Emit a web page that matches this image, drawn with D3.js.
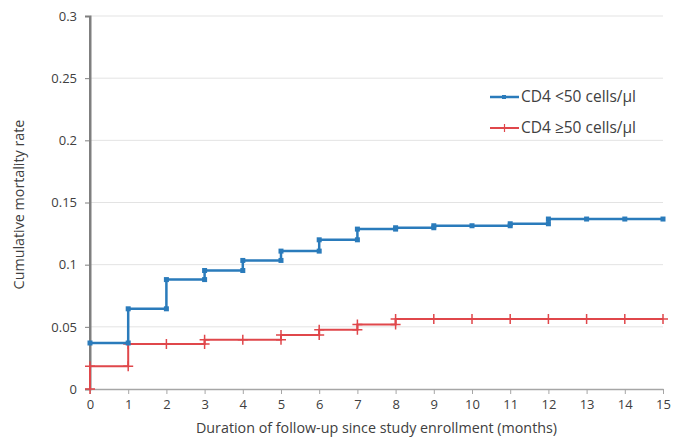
<!DOCTYPE html>
<html>
<head>
<meta charset="utf-8">
<script src="https://cdn.jsdelivr.net/npm/d3@7"></script>
<style>
  body { margin: 0; background: #fff; }
  text { font-family: "Open Sans", "Noto Sans", sans-serif; fill: #404040; }
</style>
</head>
<body>
<div id="chart"></div>
<script>
    // step curve data: value reached at each month
    var months = [0, 1, 2, 3, 4, 5, 6, 7, 8, 9, 10, 11, 12, 13, 14, 15];
    var lowCD4 = [0.037, 0.0645, 0.088, 0.0953, 0.1034, 0.1109, 0.12, 0.1286, 0.1297, 0.1313, 0.1313, 0.1329, 0.1367, 0.1367, 0.1367, 0.1367];
    var highCD4 = [0.0182, 0.0362, 0.0362, 0.0396, 0.0396, 0.0434, 0.0477, 0.0519, 0.0563, 0.0563, 0.0563, 0.0563, 0.0563, 0.0563, 0.0563, 0.0563];
    var lowStart = null, highStart = 0;
    var yTicks = [0, 0.05, 0.1, 0.15, 0.2, 0.25, 0.3];
    var seriesNames = ["CD4 <50 cells/\u00b5l", "CD4 \u226550 cells/\u00b5l"];

    var margin = {top: 16, right: 16, bottom: 48, left: 90},
        width = 663 - margin.left,
        height = 389 - margin.top;

    var x = d3.scaleLinear().domain([0, 15]).range([0, width]);
    var y = d3.scaleLinear().domain([0, 0.3]).range([height, 0]);

    // turn month values into step points (old value, then new value)
    function stepPoints(vals, start) {
        var pts = [];
        var prev = start;
        months.forEach(function(m, i) {
            if (prev !== null && prev !== vals[i]) pts.push([m, prev]);
            pts.push([m, vals[i]]);
            prev = vals[i];
        });
        return pts;
    }

    var svg = d3.select("#chart").append("svg")
        .attr("width", 679)
        .attr("height", 437)
        .append("g")
        .attr("transform", "translate(" + margin.left + "," + margin.top + ")");

    // grid
    svg.selectAll(".grid").data(yTicks.slice(1)).enter().append("line")
        .attr("x1", 0).attr("x2", width)
        .attr("y1", function(d) { return y(d); })
        .attr("y2", function(d) { return y(d); })
        .attr("stroke", "#e3e3e3").attr("stroke-width", 1);

    // y axis
    var yAxis = svg.append("g").call(d3.axisLeft(y).tickValues(yTicks).tickSize(5).tickPadding(8).tickFormat(function(d) { return d3.format("")(+d.toFixed(2)); }));
    yAxis.select(".domain").attr("stroke", "#7f7f7f").attr("stroke-width", 2);
    yAxis.selectAll(".tick line").attr("stroke", "#7f7f7f");
    yAxis.selectAll("text").style("font-size", "13px").attr("fill", "#404040");

    // x axis
    var xAxis = svg.append("g").attr("transform", "translate(0," + height + ")")
        .call(d3.axisBottom(x).tickValues(months).tickSize(5).tickPadding(6).tickSizeOuter(0));
    xAxis.select(".domain").attr("stroke", "#a6a6a6").attr("stroke-width", 1.5);
    xAxis.selectAll(".tick line").attr("stroke", "#a6a6a6");
    xAxis.selectAll("text").style("font-size", "13px").attr("fill", "#404040");

    // redraw y domain on top
    svg.append("line").attr("x1", 0).attr("x2", 0).attr("y1", 0).attr("y2", height)
        .attr("stroke", "#7f7f7f").attr("stroke-width", 2);

    var line = d3.line().x(function(d) { return x(d[0]); }).y(function(d) { return y(d[1]); });

    var lowPts = stepPoints(lowCD4, lowStart);
    var highPts = stepPoints(highCD4, highStart);

    var blue = "#2a7bbb", red = "#e0474b";

    svg.append("path").datum(highPts).attr("d", line)
        .attr("fill", "none").attr("stroke", red).attr("stroke-width", 2);
    svg.selectAll(".hm").data(highPts).enter().append("path")
        .attr("transform", function(d) { return "translate(" + x(d[0]) + "," + y(d[1]) + ")"; })
        .attr("d", "M-5,0H5M0,-5V5")
        .attr("stroke", red).attr("stroke-width", 1.5);

    svg.append("path").datum(lowPts).attr("d", line)
        .attr("fill", "none").attr("stroke", blue).attr("stroke-width", 2.5);
    svg.selectAll(".lm").data(lowPts).enter().append("rect")
        .attr("x", function(d) { return x(d[0]) - 2.5; })
        .attr("y", function(d) { return y(d[1]) - 2.5; })
        .attr("width", 5).attr("height", 5)
        .attr("fill", blue);

    // legend
    var legend = svg.selectAll(".legend").data(seriesNames).enter().append("g")
        .attr("transform", function(d, i) { return "translate(400," + (81 + i * 31) + ")"; });
    legend.append("line").attr("x1", 0).attr("x2", 29)
        .attr("stroke", function(d, i) { return i === 0 ? blue : red; })
        .attr("stroke-width", function(d, i) { return i === 0 ? 2.5 : 2; });
    legend.filter(function(d, i) { return i === 0; }).append("rect")
        .attr("x", 12).attr("y", -2).attr("width", 4).attr("height", 4).attr("fill", blue);
    legend.filter(function(d, i) { return i === 1; }).append("path")
        .attr("d", "M14.5,-4V4").attr("stroke", red).attr("stroke-width", 1.2);
    legend.append("text").attr("x", 31).attr("dy", "0.35em")
        .style("font-size", "15.5px")
        .text(function(d) { return d; });

    // axis titles
    svg.append("text")
        .attr("x", width / 2).attr("y", height + 44)
        .attr("text-anchor", "middle").style("font-size", "14.3px")
        .text("Duration of follow-up since study enrollment (months)");

    svg.append("text")
        .attr("transform", "translate(-66," + (height / 2 + 2) + ") rotate(-90)")
        .attr("text-anchor", "middle").style("font-size", "14.3px")
        .text("Cumulative mortality rate");
</script>
</body>
</html>
